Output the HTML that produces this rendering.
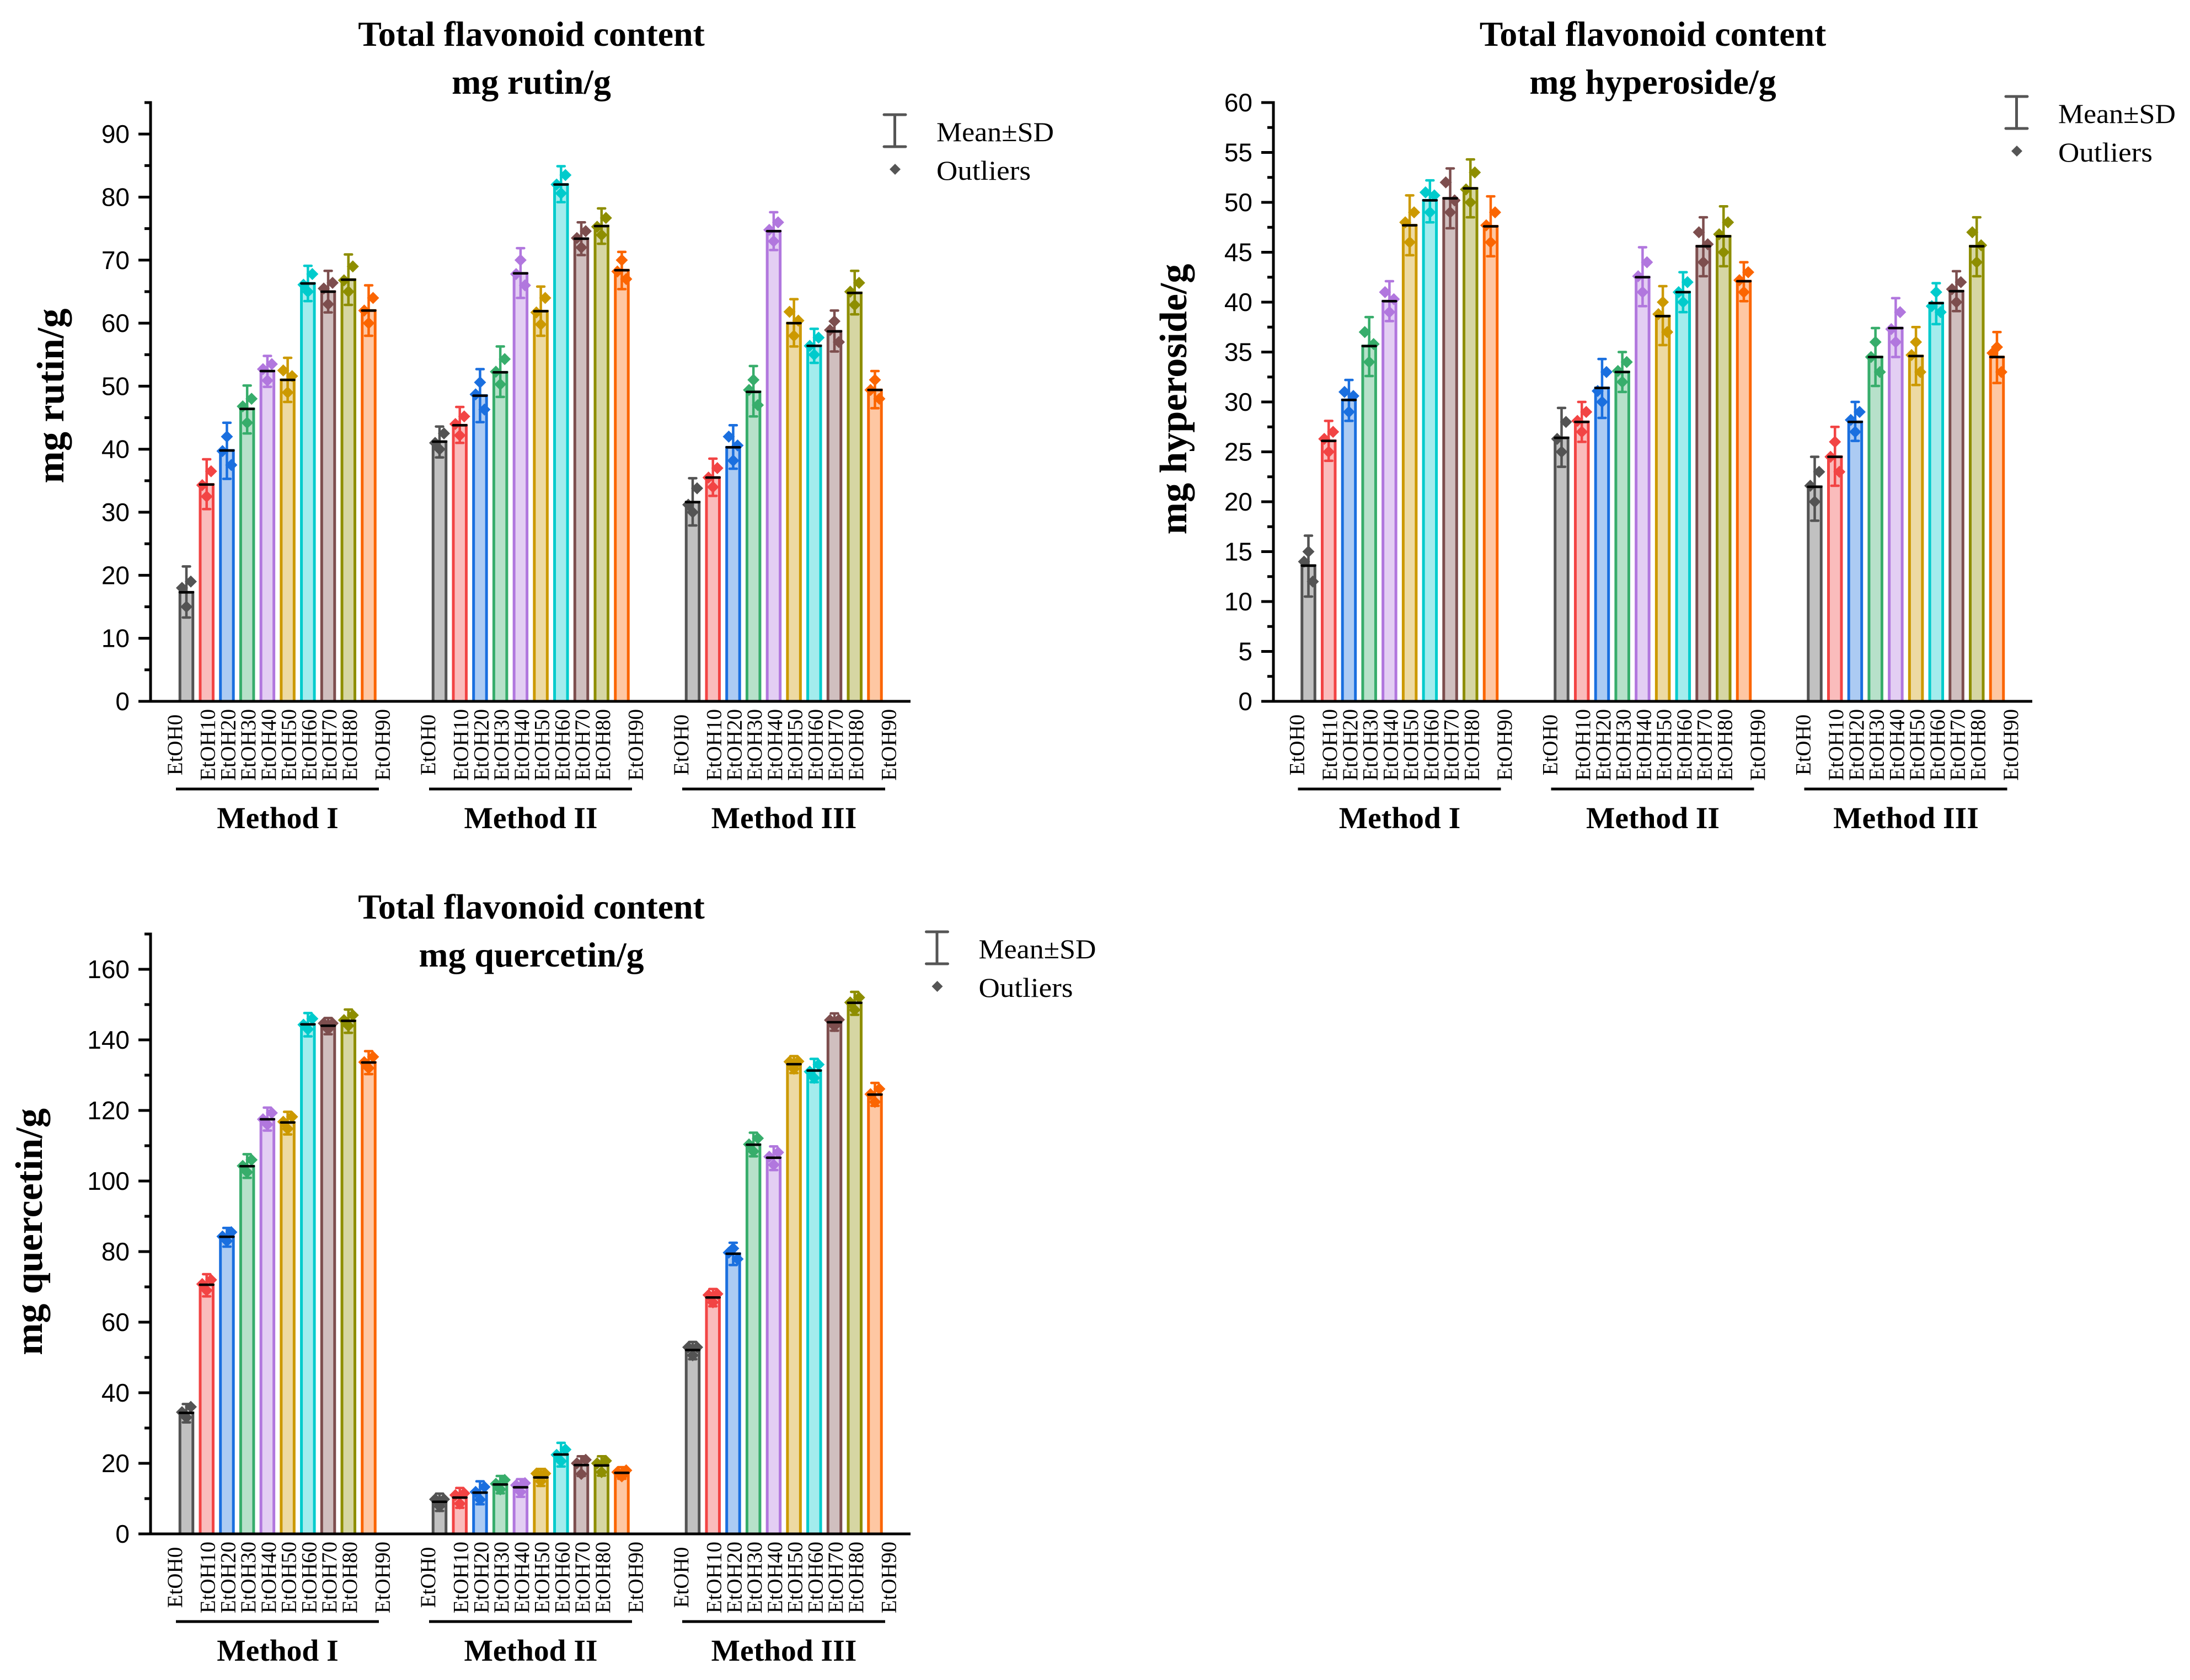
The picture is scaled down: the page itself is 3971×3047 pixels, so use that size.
<!DOCTYPE html>
<html lang="en">
<head>
<meta charset="utf-8">
<title>Total flavonoid content</title>
<style>
html,body{margin:0;padding:0;background:#fff;}
svg{display:block;}
text{fill:#000;}
.serif{font-family:"Liberation Serif","DejaVu Serif",serif;}
.sans{font-family:"Liberation Sans","DejaVu Sans",sans-serif;}
.title{font-family:"Liberation Serif","DejaVu Serif",serif;font-weight:bold;font-size:63.8px;text-anchor:middle;}
.ytitle{font-family:"Liberation Serif","DejaVu Serif",serif;font-weight:bold;font-size:70px;text-anchor:middle;}
.legend{font-family:"Liberation Serif","DejaVu Serif",serif;font-size:50px;}
</style>
</head>
<body>
<svg id="figure" xmlns="http://www.w3.org/2000/svg" width="3971" height="3047" viewBox="0 0 3971 3047">
  <rect x="0" y="0" width="3971" height="3047" fill="#fff"/>

  <text class="title" x="963.5" y="83">Total flavonoid content</text>
  <text class="title" x="963.5" y="170">mg rutin/g</text>
  <text class="ytitle" transform="translate(115,718) rotate(-90)">mg rutin/g</text>

  <text class="title" x="2997" y="83">Total flavonoid content</text>
  <text class="title" x="2997" y="170">mg hyperoside/g</text>
  <text class="ytitle" transform="translate(2151,724) rotate(-90)">mg hyperoside/g</text>

  <text class="title" x="963.5" y="1666">Total flavonoid content</text>
  <text class="title" x="963.5" y="1753">mg quercetin/g</text>
  <text class="ytitle" transform="translate(76,2234) rotate(-90)">mg quercetin/g</text>

  <g>
    <path d="M1603 208H1642M1622.5 208V266M1603 266H1642" fill="none" stroke="#555" stroke-width="5" stroke-linecap="round"/>
    <path d="M1623 297L1633 307L1623 317L1613 307Z" fill="#555"/>
    <text class="legend" x="1698" y="256" textLength="213" lengthAdjust="spacingAndGlyphs">Mean±SD</text>
    <text class="legend" x="1698" y="326" textLength="171" lengthAdjust="spacingAndGlyphs">Outliers</text>
  </g>
  <g transform="translate(2034,-33)">
    <path d="M1603 208H1642M1622.5 208V266M1603 266H1642" fill="none" stroke="#555" stroke-width="5" stroke-linecap="round"/>
    <path d="M1623 297L1633 307L1623 317L1613 307Z" fill="#555"/>
    <text class="legend" x="1698" y="256" textLength="213" lengthAdjust="spacingAndGlyphs">Mean±SD</text>
    <text class="legend" x="1698" y="326" textLength="171" lengthAdjust="spacingAndGlyphs">Outliers</text>
  </g>
  <g transform="translate(76.5,1482)">
    <path d="M1603 208H1642M1622.5 208V266M1603 266H1642" fill="none" stroke="#555" stroke-width="5" stroke-linecap="round"/>
    <path d="M1623 297L1633 307L1623 317L1613 307Z" fill="#555"/>
    <text class="legend" x="1698" y="256" textLength="213" lengthAdjust="spacingAndGlyphs">Mean±SD</text>
    <text class="legend" x="1698" y="326" textLength="171" lengthAdjust="spacingAndGlyphs">Outliers</text>
  </g>
</svg>
<script>
const categories = ['EtOH0','EtOH10','EtOH20','EtOH30','EtOH40','EtOH50','EtOH60','EtOH70','EtOH80','EtOH90'];
const methods = ['Method I','Method II','Method III'];
const seriesColors = ['#535353','#F24444','#1A6FDF','#37AD6B','#B177DE','#CC9900','#00CBCC','#7D4E4E','#8E8E00','#FB6501'];

const rutinTicks = [0,10,20,30,40,50,60,70,80,90];
const rutinMean = [17.3,34.4,39.8,46.4,52.4,51,66.3,65,66.9,62,
  41.2,43.8,48.5,52.2,67.9,61.9,82,73.4,75.4,68.4,
  31.6,35.5,40.3,49.1,74.6,60,56.4,58.7,64.8,49.4];
const rutinHigh = [21.4,38.4,44.2,50.1,54.8,54.5,69.1,68.3,70.9,66,
  43.6,46.7,52.7,56.3,71.9,65.8,84.9,76,78.2,71.3,
  35.4,38.5,43.8,53.2,77.6,63.8,59.1,62,68.3,52.4];
const rutinLow = [13.3,30.5,35.3,42.5,49.9,47.5,63.5,61.7,62.9,58,
  38.7,41,44.3,48.3,64,58,79.2,70.8,72.6,65.4,
  27.9,32.6,36.9,45.2,71.6,56.3,53.7,55.5,61.4,46.5];
const rutinLeft = [18,34.3,39.7,46.8,52.7,52.5,66.1,65.5,66.8,62,
  41,44,48.7,52.3,67.8,61.7,82,73.5,75.3,68.2,
  31.2,35.5,42,49.4,74.8,61.8,56.4,58.9,65,49.4];
const rutinRight = [19,36.5,37.5,48,53.5,51.6,67.8,66.4,69,64,
  42.5,45.2,46.3,54.3,66,64,83.5,74.6,76.7,67,
  33.8,37,40.6,47,76,60.4,57.7,57,66.4,48];
const rutinCenter = [15,32.5,42,44.2,50.9,49,65,63,65,60,
  40,42.2,50.6,50.3,70,59.8,80.6,72,74,70,
  30,34,38.2,51,73,58,55,60.3,62.9,51];

const hyperosideTicks = [0,5,10,15,20,25,30,35,40,45,50,55,60];
const hyperosideMean = [13.6,26.1,30.2,35.6,40.1,47.7,50.2,50.4,51.4,47.6,
  26.4,28,31.4,33,42.5,38.6,41,45.6,46.6,42.1,
  21.5,24.5,28,34.5,37.4,34.6,39.9,41.1,45.6,34.5];
const hyperosideHigh = [16.6,28.1,32.2,38.5,42.1,50.7,52.2,53.4,54.3,50.6,
  29.4,30,34.3,35,45.5,41.6,43,48.5,49.6,44,
  24.5,27.5,30,37.4,40.4,37.5,41.9,43.1,48.5,37];
const hyperosideLow = [10.5,24.1,28.1,32.6,38.1,44.7,48,47.4,48.5,44.6,
  23.5,26,28.4,31,39.6,35.7,39,42.6,43.6,40.1,
  18.1,21.6,26.1,31.6,34.5,31.7,37.8,39.1,42.6,31.9];
const hyperosideLeft = [14,26.3,31,37,41,48,51,52,51.3,47.7,
  26.3,28.1,31.1,33.1,42.6,38.8,41,47,46.8,42.2,
  21.6,24.5,28.2,34.5,37.3,34.7,39.6,41.3,47,34.9];
const hyperosideRight = [12,27,30.6,35.8,40.3,49,50.7,50.2,53,49,
  28,29,33,34,44,37,42,45.8,48,43,
  23,23,29,33,39,33,39,42,45.7,33];
const hyperosideCenter = [15,25,29,34,39,46,49,49,50,46,
  25,27,30,32,41,40,40,44,45,41,
  20,26,27,36,36,36,41,40,44,35.5];

const quercetinTicks = [0,20,40,60,80,100,120,140,160];
const quercetinMean = [34.3,70.6,84.2,104.2,117.5,116.6,144.4,144,145.4,133.6,
  9.1,10.3,11.7,14,13.2,16,22.5,19.5,19.4,17.3,
  52.1,67,79.4,110.3,106.6,133.1,131.3,145,150.5,124.5];
const quercetinHigh = [36.8,73.6,86.7,107.6,120.8,119.6,147.6,146.2,148.6,136.8,
  11.4,13,14.9,16.4,15.5,18.4,25.8,22,22,18.9,
  54.4,69.4,82.5,113.7,109.8,135.4,134.6,147.5,153.6,127.8];
const quercetinLow = [31.6,67.3,81.4,100.9,114.3,113.2,141,141.6,142,130.3,
  6.5,7.4,8.4,11.5,10.5,13.6,19.1,16.4,16.5,15.6,
  49.5,64.5,76.2,107,103.1,130.6,128,142.6,147.1,121.3];
const quercetinLeft = [34.5,70.8,84.3,104.3,117.5,116.8,144.3,144.7,145.6,133.7,
  9.8,11,11.9,14.2,13.8,17.1,22.4,20,20,17.5,
  52.9,67.7,79.7,110.4,106.9,133.8,131,145.6,150.6,124.6];
const quercetinRight = [36,72,85.5,106,119.3,118.2,146,144.7,147,135.2,
  9.8,11.5,13.3,15.3,14.4,17.1,23.9,21,20.7,18,
  52.9,68,77.9,112.1,108.1,133.9,133,145.7,152,126.1];
const quercetinCenter = [33,69,83,102.5,116,114.8,143,143,144,132,
  7.8,8.6,9.7,12.6,11.9,14.9,20.6,17,17.5,16.3,
  50.6,65.6,80.9,108.4,104.6,131.8,129.2,143.9,148.5,122.4];

const NS = 'http://www.w3.org/2000/svg';
const figure = document.getElementById('figure');

const BAR_STEP = 36.72;
const GROUP_STEP = 459;
const POINT_OFFSET = 8;
const DIAMOND = 11;
const CAP = 6.5;

function mk(tag, attrs, parent) {
  const el = document.createElementNS(NS, tag);
  for (const k in attrs) el.setAttribute(k, attrs[k]);
  parent.appendChild(el);
  return el;
}

function labelOffset(i) {
  if (i === 0) return -21;
  if (i === categories.length - 1) return 25;
  return 2;
}

function drawChart(c) {
  const root = mk('g', {}, figure);
  
  

  const yScale = v => c.yBottom - (v - 0) / (c.yMax - 0) * (c.yBottom - c.yTop);
  const xScale = (m, i) => c.firstBar + m * GROUP_STEP + i * BAR_STEP;

  const n = categories.length;
  for (let m = 0; m < methods.length; m++) {
    const grp = mk('g', {}, root);
    
    

    for (let i = 0; i < n; i++) {
      const idx = m * n + i;
      const cx = xScale(m, i);
      const color = seriesColors[i];
      const cat = categories[i].toLowerCase();

      const bar = mk('rect', {x: cx - 11.75, y: yScale(c.mean[idx]), width: 23.5, height: yScale(0) - yScale(c.mean[idx]), fill: color, 'fill-opacity': 0.36, stroke: color, 'stroke-width': 5}, grp);
      
      

      const yH = yScale(c.high[idx]);
      const yL = yScale(c.low[idx]);
      const err = mk('path', {d: 'M' + (cx - CAP) + ' ' + yH + 'H' + (cx + CAP) + 'M' + cx + ' ' + yH + 'V' + yL + 'M' + (cx - CAP) + ' ' + yL + 'H' + (cx + CAP), fill: 'none', stroke: color, 'stroke-width': 4.5, 'stroke-linecap': 'round'}, grp);
      
      

      const pts = [[c.left[idx], -POINT_OFFSET], [c.right[idx], POINT_OFFSET], [c.center[idx], 0]];
      for (const p of pts) {
        const px = cx + p[1];
        const py = yScale(p[0]);
        const d = mk('path', {d: 'M' + px + ' ' + (py - DIAMOND) + 'L' + (px + DIAMOND) + ' ' + py + 'L' + px + ' ' + (py + DIAMOND) + 'L' + (px - DIAMOND) + ' ' + py + 'Z', fill: color}, grp);
        
        
      }

      const ml = mk('line', {x1: cx - 12, x2: cx + 12, y1: yScale(c.mean[idx]), y2: yScale(c.mean[idx]), stroke: '#000', 'stroke-width': 4.5, 'stroke-linecap': 'round'}, grp);
      
      

      const lx = cx + labelOffset(i) + 13;
      const ly = yScale(0) + 79;
      const t = mk('text', {transform: 'translate(' + lx + ',' + ly + ') rotate(-90)', 'text-anchor': 'middle', 'font-size': 39, class: 'serif'}, grp);
      t.textContent = categories[i];
      
      
    }

    const x0 = xScale(m, 0) - 19;
    const under = mk('line', {x1: x0, x2: x0 + 368, y1: yScale(0) + 159, y2: yScale(0) + 159, stroke: '#000', 'stroke-width': 5}, grp);
    
    

    const lab = mk('text', {x: x0 + 184.5, y: yScale(0) + 230, 'text-anchor': 'middle', 'font-size': 55.5, 'font-weight': 'bold', class: 'serif'}, grp);
    lab.textContent = methods[m];
    
    
  }

  const yAxis = mk('line', {x1: c.axisX, x2: c.axisX, y1: c.yTop - 2.5, y2: c.yBottom + 2.5, stroke: '#000', 'stroke-width': 5}, root);
  
  

  const xAxis = mk('line', {x1: c.axisX - 22, x2: c.axisEnd, y1: c.yBottom, y2: c.yBottom, stroke: '#000', 'stroke-width': 5}, root);
  
  

  const step = c.ticks[1] - c.ticks[0];
  for (const v of c.ticks) {
    const ty = yScale(v);
    const tick = mk('line', {x1: c.axisX - 22, x2: c.axisX, y1: ty, y2: ty, stroke: '#000', 'stroke-width': 5}, root);
    
    

    const label = mk('text', {x: c.axisX - 38, y: ty + 16, 'text-anchor': 'end', 'font-size': 46, class: 'sans'}, root);
    label.textContent = String(v);
    
    

    if (v + step / 2 <= c.yMax) {
      const my = yScale(v + step / 2);
      const minor = mk('line', {x1: c.axisX - 11, x2: c.axisX, y1: my, y2: my, stroke: '#000', 'stroke-width': 5}, root);
      
      
    }
  }
}

drawChart({name: 'rutin', firstBar: 338, axisX: 273, axisEnd: 1651, yTop: 186, yBottom: 1272, yMax: 95,
  ticks: rutinTicks, mean: rutinMean, high: rutinHigh, low: rutinLow, left: rutinLeft, right: rutinRight, center: rutinCenter});
drawChart({name: 'hyperoside', firstBar: 2372.5, axisX: 2309, axisEnd: 3685, yTop: 186, yBottom: 1272, yMax: 60,
  ticks: hyperosideTicks, mean: hyperosideMean, high: hyperosideHigh, low: hyperosideLow, left: hyperosideLeft, right: hyperosideRight, center: hyperosideCenter});
drawChart({name: 'quercetin', firstBar: 338, axisX: 273, axisEnd: 1651, yTop: 1694, yBottom: 2782, yMax: 170,
  ticks: quercetinTicks, mean: quercetinMean, high: quercetinHigh, low: quercetinLow, left: quercetinLeft, right: quercetinRight, center: quercetinCenter});
</script>
</body>
</html>
